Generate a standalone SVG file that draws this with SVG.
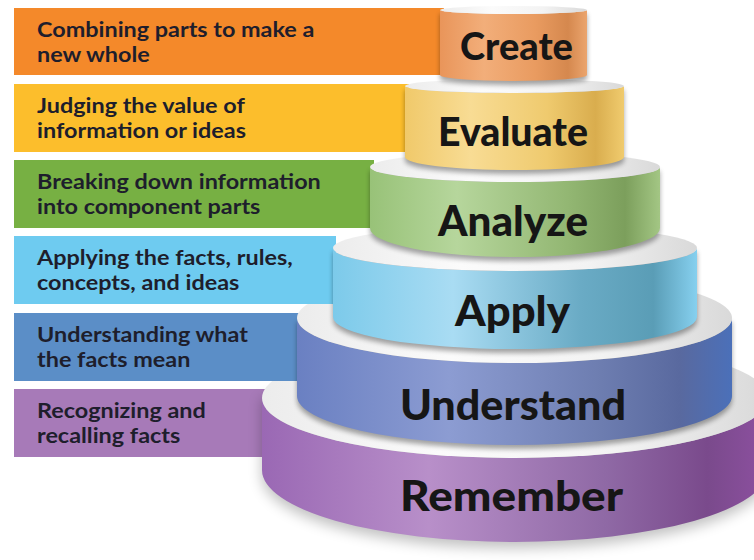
<svg xmlns="http://www.w3.org/2000/svg" width="754" height="560" viewBox="0 0 754 560">
<defs>
<linearGradient id="gCreate" x1="0" x2="1" y1="0" y2="0"><stop offset="0" stop-color="#e9955a"/><stop offset="0.3" stop-color="#f2ae7a"/><stop offset="0.65" stop-color="#e99b60"/><stop offset="0.87" stop-color="#d5884e"/><stop offset="1" stop-color="#eba56e"/></linearGradient>
<linearGradient id="gEvaluate" x1="0" x2="1" y1="0" y2="0"><stop offset="0" stop-color="#f0c96a"/><stop offset="0.3" stop-color="#f8dc94"/><stop offset="0.65" stop-color="#efca6e"/><stop offset="0.87" stop-color="#d9ad4e"/><stop offset="1" stop-color="#f0cb6e"/></linearGradient>
<linearGradient id="gAnalyze" x1="0" x2="1" y1="0" y2="0"><stop offset="0" stop-color="#98c278"/><stop offset="0.3" stop-color="#b6d69c"/><stop offset="0.68" stop-color="#93b773"/><stop offset="0.88" stop-color="#7c9f5c"/><stop offset="1" stop-color="#a3c684"/></linearGradient>
<linearGradient id="gApply" x1="0" x2="1" y1="0" y2="0"><stop offset="0" stop-color="#7ccaea"/><stop offset="0.33" stop-color="#a9dcf3"/><stop offset="0.68" stop-color="#6aabc5"/><stop offset="0.88" stop-color="#5a9db6"/><stop offset="1" stop-color="#86d0ef"/></linearGradient>
<linearGradient id="gUnderstand" x1="0" x2="1" y1="0" y2="0"><stop offset="0" stop-color="#6a80c2"/><stop offset="0.35" stop-color="#8c9cd2"/><stop offset="0.7" stop-color="#6d7db0"/><stop offset="0.88" stop-color="#59699f"/><stop offset="1" stop-color="#4b70b9"/></linearGradient>
<linearGradient id="gRemember" x1="0" x2="1" y1="0" y2="0"><stop offset="0" stop-color="#9a68b4"/><stop offset="0.33" stop-color="#b88fc9"/><stop offset="0.68" stop-color="#8f69a5"/><stop offset="0.88" stop-color="#7a4a8c"/><stop offset="1" stop-color="#8d50a0"/></linearGradient>
<linearGradient id="gTop" x1="0" x2="1" y1="0" y2="0"><stop offset="0" stop-color="#ececec"/><stop offset="0.35" stop-color="#fbfbfb"/><stop offset="0.7" stop-color="#f3f3f3"/><stop offset="1" stop-color="#d9d9d9"/></linearGradient>
<filter id="blur" x="-10%" y="-20%" width="120%" height="160%"><feGaussianBlur stdDeviation="2.5"/></filter>
<filter id="blurBig" x="-10%" y="-20%" width="120%" height="160%"><feGaussianBlur stdDeviation="7"/></filter>
</defs>
<style>
.band{stroke:none}
.bt{font-family:Lato,"Liberation Sans",sans-serif;font-weight:700;font-size:20px;fill:#1e1e2c}
.lbl{font-family:Lato,"Liberation Sans",sans-serif;font-weight:900;font-size:42px;fill:#161616;text-anchor:middle}
.top{fill:url(#gTop)}
.shadow{fill:#000;opacity:0.35;filter:url(#blur)}
</style>
<rect width="754" height="560" fill="#ffffff"/>

<g id="level-remember">
<rect class="band" x="14" y="389" width="252" height="68" fill="#a77ab8"/>
<g transform="translate(37,0) scale(1.17,1)">
<text class="bt" x="0" y="418">Recognizing and</text>
<text class="bt" x="0" y="443">recalling facts</text>
</g>
<path d="M262,398 L262,476 A253,72 0 0 0 768,476 L768,398 Z" fill="#000" opacity="0.25" filter="url(#blurBig)"/>
<path d="M262,398 L262,470 A253,72 0 0 0 768,470 L768,398 A253,60 0 0 1 262,398 Z" fill="url(#gRemember)"/>
<ellipse class="top" cx="515" cy="398" rx="253" ry="60"/>
<text class="lbl" x="511.5" y="511" textLength="223" lengthAdjust="spacingAndGlyphs">Remember</text>
</g>

<g id="level-understand">
<rect class="band" x="14" y="313" width="286" height="68" fill="#5b8ec7"/>
<g transform="translate(37,0) scale(1.17,1)">
<text class="bt" x="0" y="342">Understanding what</text>
<text class="bt" x="0" y="367">the facts mean</text>
</g>
<path class="shadow" transform="translate(0,4)" d="M297,318 L297,396 A217.5,49 0 0 0 732,396 L732,318 Z"/>
<path d="M297,318 L297,396 A217.5,49 0 0 0 732,396 L732,318 A217.5,45 0 0 1 297,318 Z" fill="url(#gUnderstand)"/>
<ellipse class="top" cx="514.5" cy="318" rx="217.5" ry="45"/>
<text class="lbl" x="513" y="420" textLength="226" lengthAdjust="spacingAndGlyphs">Understand</text>
</g>

<g id="level-apply">
<rect class="band" x="14" y="236" width="322" height="68" fill="#6ecbf0"/>
<g transform="translate(37,0) scale(1.17,1)">
<text class="bt" x="0" y="265">Applying the facts, rules,</text>
<text class="bt" x="0" y="290">concepts, and ideas</text>
</g>
<path class="shadow" transform="translate(0,4)" d="M333,248 L333,317 A182,32 0 0 0 697,317 L697,248 Z"/>
<path d="M333,248 L333,317 A182,32 0 0 0 697,317 L697,248 A182,23 0 0 1 333,248 Z" fill="url(#gApply)"/>
<ellipse class="top" cx="515" cy="248" rx="182" ry="23"/>
<text class="lbl" x="512.5" y="326" textLength="115" lengthAdjust="spacingAndGlyphs">Apply</text>
</g>

<g id="level-analyze">
<rect class="band" x="14" y="160" width="360" height="68" fill="#77b043"/>
<g transform="translate(37,0) scale(1.17,1)">
<text class="bt" x="0" y="189">Breaking down information</text>
<text class="bt" x="0" y="214">into component parts</text>
</g>
<path class="shadow" transform="translate(0,4)" d="M370,167 L370,228 A145,29 0 0 0 660,228 L660,167 Z"/>
<path d="M370,167 L370,228 A145,29 0 0 0 660,228 L660,167 A145,15 0 0 1 370,167 Z" fill="url(#gAnalyze)"/>
<ellipse class="top" cx="515" cy="167" rx="145" ry="15"/>
<text class="lbl" x="513" y="236" textLength="150" lengthAdjust="spacingAndGlyphs">Analyze</text>
</g>

<g id="level-evaluate">
<rect class="band" x="14" y="84" width="395" height="68" fill="#fcbe2c"/>
<g transform="translate(37,0) scale(1.17,1)">
<text class="bt" x="0" y="113">Judging the value of</text>
<text class="bt" x="0" y="138">information or ideas</text>
</g>
<path class="shadow" transform="translate(0,4)" d="M405,86 L405,157 A109.5,13 0 0 0 624,157 L624,86 Z"/>
<path d="M405,86 L405,157 A109.5,13 0 0 0 624,157 L624,86 A109.5,7 0 0 1 405,86 Z" fill="url(#gEvaluate)"/>
<ellipse class="top" cx="514.5" cy="86" rx="109.5" ry="7"/>
<text class="lbl" x="513" y="146" style="font-size:39px" textLength="150" lengthAdjust="spacingAndGlyphs">Evaluate</text>
</g>

<g id="level-create">
<rect class="band" x="14" y="8" width="430" height="67" fill="#f4892a"/>
<g transform="translate(37,0) scale(1.17,1)">
<text class="bt" x="0" y="37">Combining parts to make a</text>
<text class="bt" x="0" y="62">new whole</text>
</g>
<path class="shadow" transform="translate(0,4)" d="M440,10 L440,75 A73.5,6 0 0 0 587,75 L587,10 Z"/>
<path d="M440,10 L440,75 A73.5,6 0 0 0 587,75 L587,10 A73.5,4 0 0 1 440,10 Z" fill="url(#gCreate)"/>
<ellipse class="top" cx="513.5" cy="10" rx="73.5" ry="4"/>
<text class="lbl" x="516.5" y="60" style="font-size:37px" textLength="113" lengthAdjust="spacingAndGlyphs">Create</text>
</g>

<g id="connectors"/>
</svg>
